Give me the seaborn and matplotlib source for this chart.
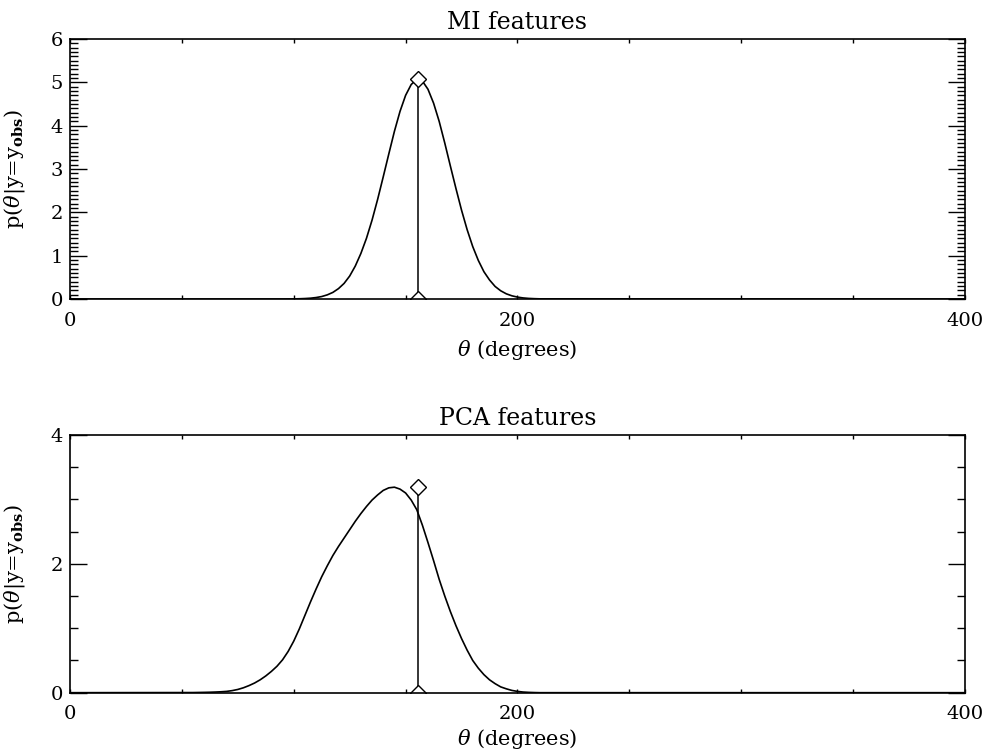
import numpy as np
import pandas as pd
import seaborn as sns
import matplotlib.pyplot as plt
from matplotlib.ticker import MultipleLocator

# MI features: posterior (theta in degrees)
theta_mi = [0, 95, 97.5, 100, 102.5, 105, 107.5, 110, 112.5, 115, 117.5, 120, 122.5, 125,
            127.5, 130, 132.5, 135, 137.5, 140, 142.5, 145, 147.5, 150, 152.5, 155, 157.5,
            160, 162.5, 165, 167.5, 170, 172.5, 175, 177.5, 180, 182.5, 185, 187.5, 190,
            192.5, 195, 197.5, 200, 202.5, 205, 207.5, 210, 400]
p_mi = [0, 0, 0.0015, 0.003, 0.006, 0.011, 0.019, 0.034, 0.057, 0.096, 0.153, 0.24, 0.36,
        0.53, 0.76, 1.05, 1.40, 1.82, 2.30, 2.82, 3.35, 3.87, 4.33, 4.70, 4.95, 5.07, 5.03,
        4.84, 4.52, 4.10, 3.60, 3.07, 2.55, 2.05, 1.60, 1.21, 0.89, 0.63, 0.44, 0.29,
        0.19, 0.12, 0.074, 0.044, 0.025, 0.014, 0.008, 0.004, 0]

# PCA features
theta_pca = [0, 55, 60, 62.5, 65, 67.5, 70, 72.5, 75, 77.5, 80, 82.5, 85, 87.5, 90, 92.5,
             95, 97.5, 100, 102.5, 105, 107.5, 110, 112.5, 115, 117.5, 120, 122.5, 125,
             127.5, 130, 132.5, 135, 137.5, 140, 142.5, 145, 147.5, 150, 152.5, 155, 157.5,
             160, 162.5, 165, 167.5, 170, 172.5, 175, 177.5, 180, 182.5, 185, 187.5, 190,
             192.5, 195, 197.5, 200, 202.5, 205, 207.5, 210, 400]
p_pca = [0, 0.002, 0.005, 0.007, 0.01, 0.014, 0.02, 0.032, 0.05, 0.076, 0.11, 0.15, 0.20,
         0.26, 0.33, 0.41, 0.51, 0.64, 0.80, 0.99, 1.20, 1.41, 1.61, 1.80, 1.97, 2.13, 2.27,
         2.40, 2.53, 2.66, 2.78, 2.89, 2.99, 3.07, 3.14, 3.18, 3.19, 3.16, 3.10, 2.99, 2.84,
         2.60, 2.33, 2.05, 1.76, 1.50, 1.26, 1.04, 0.84, 0.66, 0.50, 0.38, 0.28, 0.20, 0.14,
         0.09, 0.06, 0.035, 0.02, 0.01, 0.005, 0.002, 0, 0]

# observed theta and the marker height in each panel
theta_obs = 155.6
obs_top = [5.07, 3.20]

titles = ["MI features", "PCA features"]
ylims = [6, 4]
ymajor = [1, 2]
yminor = [0.1, 0.5]

sns.set_theme(style="ticks")
plt.rcParams['font.family'] = ['DejaVu Serif']
plt.rcParams['mathtext.fontset'] = 'dejavuserif'
plt.rcParams['text.color'] = 'black'
plt.rcParams['axes.labelcolor'] = 'black'
plt.rcParams['xtick.color'] = 'black'
plt.rcParams['ytick.color'] = 'black'

fig = plt.figure(figsize=(9.87, 7.53), dpi=100)
ax_top = fig.add_axes([0.0709, 0.6029, 0.9068, 0.3453])
ax_bot = fig.add_axes([0.0709, 0.0801, 0.9068, 0.3422])

data = [pd.DataFrame({"theta": theta_mi, "p": p_mi}),
        pd.DataFrame({"theta": theta_pca, "p": p_pca})]
xlab_y = [-0.15, -0.135]

for i, ax in enumerate([ax_top, ax_bot]):
    sns.lineplot(data=data[i], x="theta", y="p", ax=ax, color="black",
                 linewidth=1.2, estimator=None, sort=False)
    ax.plot([theta_obs, theta_obs], [0, obs_top[i]], color="black", linewidth=1.1,
            marker="D", markersize=8, markerfacecolor="white",
            markeredgecolor="black", markeredgewidth=1.0)

    ax.set_xlim(0, 400)
    ax.set_ylim(0, ylims[i])
    ax.xaxis.set_major_locator(MultipleLocator(200))
    ax.xaxis.set_minor_locator(MultipleLocator(50))
    ax.yaxis.set_major_locator(MultipleLocator(ymajor[i]))
    ax.yaxis.set_minor_locator(MultipleLocator(yminor[i]))
    ax.tick_params(axis="both", which="both", direction="in", top=True, right=True,
                   colors="black", width=1.0)
    ax.tick_params(axis="x", which="both", length=3, pad=9, labelsize=14)
    ax.tick_params(axis="y", which="major", length=12, pad=5, labelsize=14)
    ax.tick_params(axis="y", which="minor", length=6)
    for sp in ax.spines.values():
        sp.set_linewidth(1.2)
        sp.set_color("black")

    ax.set_title(titles[i], fontsize=17, pad=7)
    ax.set_xlabel(r"$\theta$ (degrees)", fontsize=15)
    ax.set_ylabel(r"p($\theta$|y=y$_{\mathbf{obs}}$)", fontsize=15)
    ax.yaxis.set_label_coords(-0.048, 0.5)
    ax.xaxis.set_label_coords(0.5, xlab_y[i])

    # keep the end labels inside the frame like the original
    ylabels = ax.get_yticklabels()
    ylabels[0].set_va("bottom")
    ylabels[-1].set_va("top")

fig.savefig("out.png", dpi=100)
